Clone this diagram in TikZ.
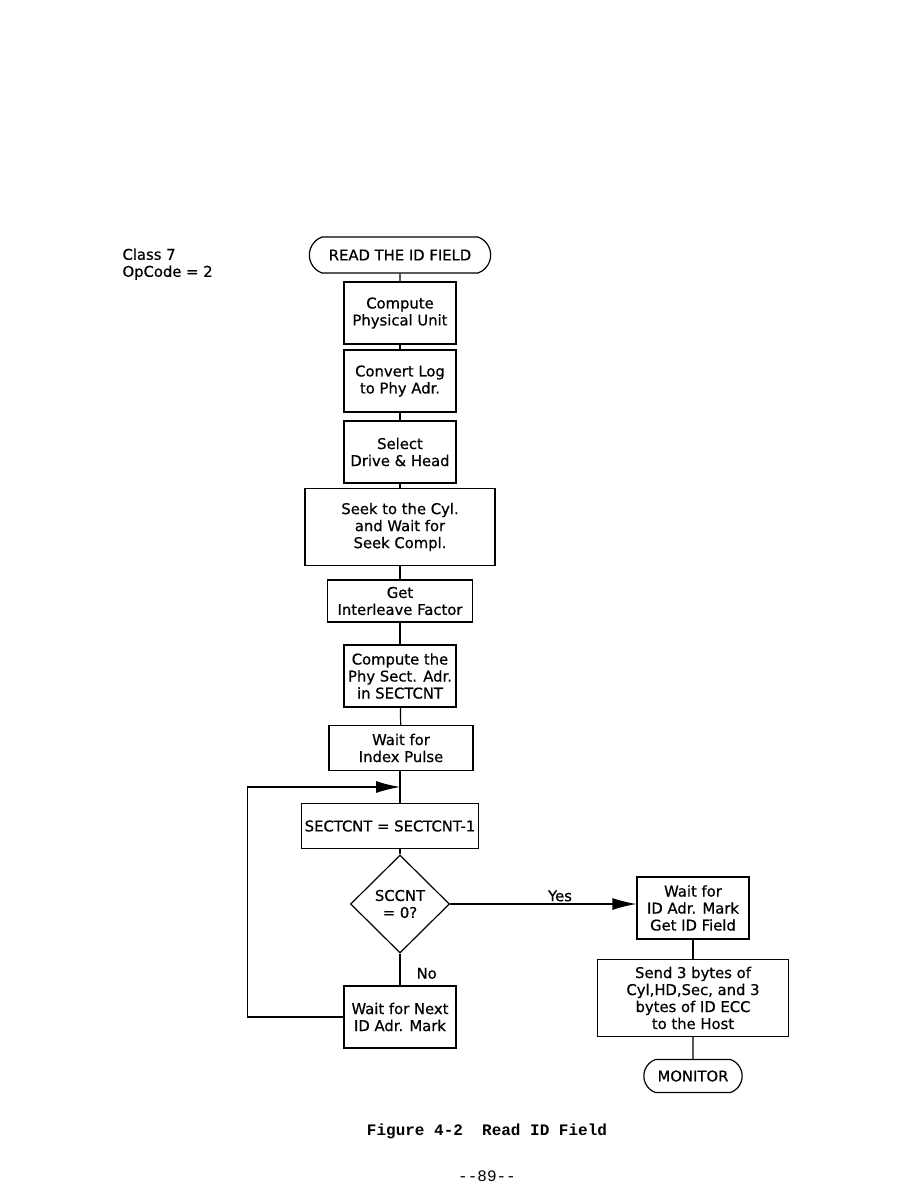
\documentclass[tikz,border=0pt]{standalone}
\usepackage{fontspec}
\setmainfont{DejaVu Sans}[FakeBold=0.6]
\newfontfamily\capfont{Liberation Mono}
\usetikzlibrary{shapes.geometric, shapes.misc, arrows.meta, positioning}
\newcommand\boxfont{\fontsize{14.8}{17}\selectfont}

\begin{document}
\begin{tikzpicture}[
  x=1pt, y=-1pt,
  proc/.style={rectangle, draw, line width=1.2pt, minimum width=112pt, minimum height=62pt, inner sep=1pt, font=\boxfont, align=center},
  dec/.style={diamond, draw, line width=1.2pt, minimum width=99pt, minimum height=98pt, aspect=1, inner sep=0pt, font=\boxfont, align=center},
  term/.style={rounded rectangle, rounded rectangle arc length=140, draw, line width=1.2pt, minimum height=36pt, font=\boxfont, align=center},
  arr/.style={-{Latex[length=24pt,width=12pt]}, line width=1.2pt},
  link/.style={line width=1.2pt},
  lbl/.style={font=\boxfont, inner sep=2pt},
]
\useasboundingbox (0,0) rectangle (918,1188);

\node[anchor=north west, align=left, font=\boxfont] (cls) at (119,245) {Class 7\\OpCode = 2};

\node[term, minimum width=188pt] (start) at (400,255) {READ THE ID FIELD};
\node[proc]  (unit)  at (400,313) {Compute\\Physical Unit};
\node[proc]  (conv)  at (400,381) {Convert Log\\to Phy Adr.};
\node[proc]  (drive) at (400,452) {Select\\Drive \& Head};
\node[proc, minimum width=190pt, minimum height=77pt] (seek) at (400,527) {Seek to the Cyl.\\and Wait for\\Seek Compl.};
\node[proc, minimum width=145pt, minimum height=42pt] (ilv)  at (400,601) {Get\\Interleave Factor};
\node[proc]  (phys)  at (400,676) {Compute the\\Phy Sect. Adr.\\in SECTCNT};
\node[proc, minimum width=144pt, minimum height=45pt] (index) at (401,748) {Wait for\\Index Pulse};
\coordinate  (join)  at (400,787);
\node[proc, minimum width=177pt, minimum height=45pt] (sect) at (390,826) {SECTCNT = SECTCNT-1};
\node[dec]   (zero)  at (400,904) {SCCNT\\= 0?};
\node[proc]  (next)  at (400,1017) {Wait for Next\\ID Adr. Mark};

\node[proc]  (mark)  at (693,908) {Wait for\\ID Adr. Mark\\Get ID Field};
\node[proc, minimum width=191pt, minimum height=77pt] (send) at (693,998) {Send 3 bytes of\\Cyl,HD,Sec, and 3\\bytes of ID ECC\\to the Host};
\node[term, minimum width=105pt, minimum height=33pt] (mon) at (693,1076) {MONITOR};

\node[font=\capfont\bfseries\fontsize{16}{18}\selectfont] (cap) at (487,1131) {Figure 4-2~~Read ID Field};
\node[font=\capfont\fontsize{16}{18}\selectfont] (pg) at (487,1176) {-{}-89-{}-};

% main column
\draw[link] (start) -- (unit);
\draw[link] (unit)  -- (conv);
\draw[link] (conv)  -- (drive);
\draw[link] (drive) -- (seek);
\draw[link] (seek)  -- (ilv);
\draw[link] (ilv)   -- (phys);
\draw[link] (phys)  -- (index);
\draw[link] (index.south -| join) -- (join |- sect.north);
\draw[link] (sect.south -| zero) -- (zero);
\draw[link] (zero)  -- node[lbl, right, pos=0.62, xshift=14pt]{No} (next);
\draw[arr]  (next.west) -- ++(-96,0) |- (join);

% yes branch
\draw[arr]  (zero.east) -- node[lbl, above, pos=0.59]{Yes} (zero.east -| mark.west);
\draw[link] (mark)  -- (send);
\draw[link] (send)  -- (mon);
\end{tikzpicture}
\end{document}
